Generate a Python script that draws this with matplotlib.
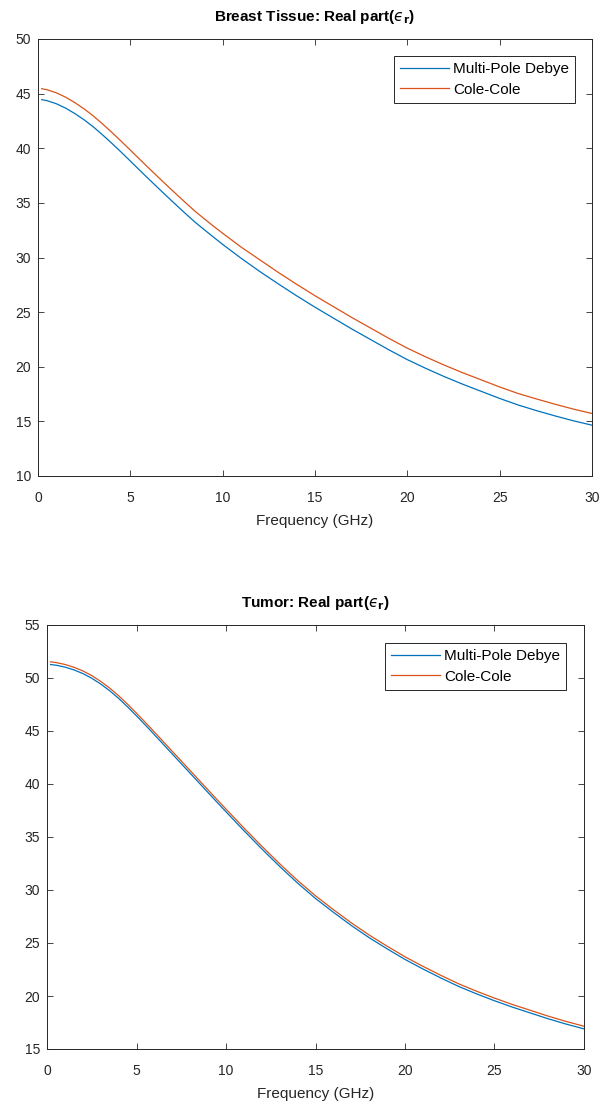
import matplotlib.pyplot as plt

plt.rcParams['font.family'] = ['Liberation Sans', 'DejaVu Sans']
plt.rcParams['mathtext.fontset'] = 'dejavusans'

# frequency grid (GHz), shared by both panels
freq = [0.2, 0.5, 1, 1.5, 2, 2.5, 3, 3.5, 4, 4.5, 5, 5.5, 6, 6.5, 7, 7.5, 8, 8.5, 9, 9.5,
        10, 11, 12, 13, 14, 15, 16, 17, 18, 19, 20, 21, 22, 23, 24, 25, 26, 27, 28, 29, 30]

# Breast tissue, real part of relative permittivity
breast_debye = [44.45, 44.35, 44.07, 43.67, 43.17, 42.6, 41.95, 41.22, 40.45, 39.65, 38.83,
                38.0, 37.18, 36.37, 35.57, 34.78, 34.0, 33.24, 32.55, 31.87, 31.2, 29.93,
                28.73, 27.6, 26.5, 25.45, 24.45, 23.45, 22.5, 21.55, 20.65, 19.85, 19.1,
                18.4, 17.75, 17.1, 16.5, 15.98, 15.5, 15.05, 14.65]
breast_cole = [45.45, 45.35, 45.07, 44.67, 44.17, 43.6, 42.95, 42.22, 41.45, 40.65, 39.83,
               39.0, 38.18, 37.37, 36.57, 35.78, 35.0, 34.24, 33.55, 32.87, 32.22, 30.95,
               29.8, 28.65, 27.55, 26.5, 25.5, 24.5, 23.55, 22.6, 21.7, 20.9, 20.15,
               19.45, 18.8, 18.15, 17.55, 17.05, 16.57, 16.12, 15.72]

# Tumor, real part of relative permittivity
tumor_debye = [51.27, 51.21, 51.03, 50.77, 50.42, 49.98, 49.43, 48.8, 48.08, 47.28, 46.43,
               45.55, 44.65, 43.74, 42.83, 41.92, 41.01, 40.1, 39.19, 38.28, 37.38, 35.6,
               33.88, 32.22, 30.65, 29.2, 27.9, 26.65, 25.5, 24.45, 23.45, 22.55, 21.7,
               20.9, 20.2, 19.55, 18.95, 18.4, 17.85, 17.35, 16.9]
tumor_cole = [51.52, 51.46, 51.28, 51.02, 50.67, 50.23, 49.68, 49.05, 48.33, 47.53, 46.68,
              45.8, 44.9, 43.99, 43.08, 42.17, 41.26, 40.35, 39.44, 38.53, 37.63, 35.85,
              34.13, 32.47, 30.9, 29.45, 28.15, 26.9, 25.75, 24.7, 23.7, 22.8, 21.95,
              21.15, 20.45, 19.8, 19.2, 18.65, 18.1, 17.6, 17.15]

blue = '#0072BD'
orange = '#D95319'
dark = '#262626'

W, H = 602, 1101
fig = plt.figure(figsize=(W / 100, H / 100), dpi=100)

# axes boxes in pixels: left, top, right, bottom
top_box = (38, 39, 592, 476)
bot_box = (47, 625, 584, 1049)


def make_axes(box):
    l, t, r, b = box
    return fig.add_axes([l / W, 1 - b / H, (r - l) / W, (b - t) / H])


def style(ax, ylim, yticks, title, leg_gap):
    ax.set_xlim(0, 30)
    ax.set_ylim(*ylim)
    ax.set_xticks(range(0, 31, 5))
    ax.set_yticks(yticks)
    ax.tick_params(direction='in', top=True, right=True, length=4, width=0.6,
                   colors=dark, labelsize=10)
    ax.tick_params(axis='x', pad=10.5)
    ax.tick_params(axis='y', pad=5)
    for s in ax.spines.values():
        s.set_color(dark)
        s.set_linewidth(0.7)
    ax.set_xlabel('Frequency (GHz)', fontsize=11, color=dark, labelpad=7)
    ax.set_title(title, fontsize=11, fontweight='bold', color='black', pad=13)
    bw = ax.get_window_extent().width
    bh = ax.get_window_extent().height
    leg = ax.legend(loc='upper right', bbox_to_anchor=(1 - leg_gap / bw, 1 - leg_gap / bh),
                    borderaxespad=0, fontsize=11, handlelength=3.2, handletextpad=0.25,
                    fancybox=False, framealpha=1, edgecolor=dark, labelspacing=0.42,
                    borderpad=0.4)
    leg.get_frame().set_linewidth(0.7)


eps_r = '$\u03f5_{\\mathbf{r}}$'

ax1 = make_axes(top_box)
ax1.plot(freq, breast_debye, color=blue, lw=0.9, label='Multi-Pole Debye')
ax1.plot(freq, breast_cole, color=orange, lw=0.9, label='Cole-Cole')
style(ax1, (10, 50), range(10, 51, 5), 'Breast Tissue: Real part(' + eps_r + ')', 17)

ax2 = make_axes(bot_box)
ax2.plot(freq, tumor_debye, color=blue, lw=0.9, label='Multi-Pole Debye')
ax2.plot(freq, tumor_cole, color=orange, lw=0.9, label='Cole-Cole')
style(ax2, (15, 55), range(15, 56, 5), 'Tumor: Real part(' + eps_r + ')', 18)

fig.savefig('out.png', dpi=100)
